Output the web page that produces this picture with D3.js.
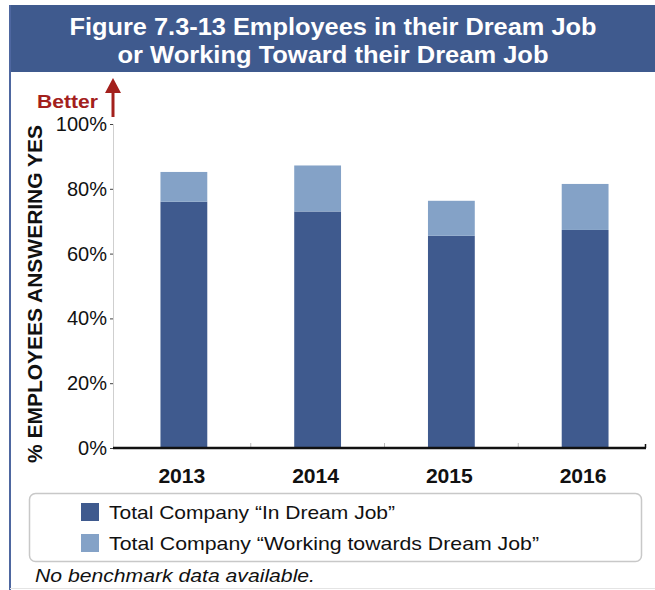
<!DOCTYPE html>
<html>
<head>
<meta charset="utf-8">
<script src="https://cdn.jsdelivr.net/npm/d3@7"></script>
<style>
  html, body { margin: 0; padding: 0; background: #fff; }
  svg { display: block; font-family: "Liberation Sans", Arial, sans-serif; }
</style>
</head>
<body>
<svg id="chart" width="655" height="590"></svg>
<script>
const years = ["2013", "2014", "2015", "2016"];
const inDreamJob = [76, 73, 65.5, 67.3];
const workingToward = [9.2, 14.2, 10.8, 14.2];
const yTicks = [0, 20, 40, 60, 80, 100];
const seriesNames = ["Total Company \u201CIn Dream Job\u201D", "Total Company \u201CWorking towards Dream Job\u201D"];
const seriesColors = ["#3F5A8E", "#84A2C7"];
const titleLines = ["Figure 7.3-13 Employees in their Dream Job", "or Working Toward their Dream Job"];

const svg = d3.select("#chart");

// frame
svg.append("rect").attr("x", 10).attr("y", 5).attr("width", 645).attr("height", 67).attr("fill", "#3F5A8E");
svg.append("line").attr("x1", 10).attr("x2", 10).attr("y1", 5).attr("y2", 590)
  .attr("stroke", "#4E67A0").attr("stroke-width", 2);
svg.append("line").attr("x1", 10).attr("x2", 655).attr("y1", 588.5).attr("y2", 588.5)
  .attr("stroke", "#e4e4e4").attr("stroke-width", 1);

// title
const titleWidths = [527, 431];
svg.selectAll("text.title").data(titleLines).join("text")
  .attr("class", "title")
  .attr("x", 333).attr("y", (d, i) => 35 + i * 28)
  .attr("text-anchor", "middle")
  .attr("fill", "#fff").attr("font-weight", "bold").attr("font-size", 23)
  .attr("textLength", (d, i) => titleWidths[i]).attr("lengthAdjust", "spacingAndGlyphs")
  .text(d => d);

// scales
const y = d3.scaleLinear().domain([0, 100]).range([448, 124]);
const x = d3.scaleBand().domain(years).range([117, 652]).paddingInner(0.65).paddingOuter(0.325);
const xb = d3.scaleBand().domain(years).range([117, 652]);

// y axis
const yAxis = svg.append("g").attr("transform", "translate(113,0)")
  .call(d3.axisLeft(y).tickValues(yTicks).tickFormat(d => d + "%").tickSize(3).tickPadding(3));
yAxis.select(".domain").attr("stroke", "#cfcfcf").attr("stroke-width", 1);
yAxis.selectAll(".tick line").attr("stroke", "#444");
yAxis.selectAll(".tick text").attr("font-size", 20).attr("fill", "#111")
  .attr("font-family", "Liberation Sans, Arial, sans-serif");

// bars
const data = years.map((yr, i) => ({ year: yr, a: inDreamJob[i], b: workingToward[i] }));
const stack = d3.stack().keys(["a", "b"])(data);
svg.append("g").selectAll("g").data(stack).join("g")
  .attr("fill", (d, i) => seriesColors[i])
  .selectAll("rect").data(d => d).join("rect")
  .attr("x", d => x(d.data.year))
  .attr("width", x.bandwidth())
  .attr("y", d => y(d[1]))
  .attr("height", d => y(d[0]) - y(d[1]));

// x axis
const xAxisG = svg.append("g").attr("transform", "translate(0,448)");
xAxisG.selectAll("line.sep").data(years.slice(1)).join("line")
  .attr("class", "sep")
  .attr("x1", d => xb(d)).attr("x2", d => xb(d))
  .attr("y1", 0).attr("y2", -5).attr("stroke", "#bbb");
xAxisG.append("line").attr("x1", 113).attr("x2", 646).attr("y1", 0).attr("y2", 0)
  .attr("stroke", "#111").attr("stroke-width", 2.5);
xAxisG.append("line").attr("x1", 645.5).attr("x2", 645.5).attr("y1", 0).attr("y2", -4)
  .attr("stroke", "#111").attr("stroke-width", 1.5);
xAxisG.selectAll("text.yr").data(years).join("text")
  .attr("class", "yr")
  .attr("x", d => x(d) + x.bandwidth() / 2 - 2)
  .attr("y", 35)
  .attr("text-anchor", "middle")
  .attr("font-size", 20).attr("font-weight", "bold").attr("fill", "#111")
  .attr("textLength", 47).attr("lengthAdjust", "spacingAndGlyphs")
  .text(d => d);

// y axis title
svg.append("text")
  .attr("transform", "translate(42,294) rotate(-90)")
  .attr("text-anchor", "middle")
  .attr("font-size", 20).attr("font-weight", "bold").attr("fill", "#111")
  .attr("textLength", 338).attr("lengthAdjust", "spacingAndGlyphs")
  .text("% EMPLOYEES ANSWERING YES");

// better arrow
const red = "#A3201C";
svg.append("text").attr("x", 37).attr("y", 108)
  .attr("font-size", 18).attr("font-weight", "bold").attr("fill", red)
  .attr("textLength", 61).attr("lengthAdjust", "spacingAndGlyphs")
  .text("Better");
svg.append("line").attr("x1", 113).attr("x2", 113).attr("y1", 117).attr("y2", 90)
  .attr("stroke", red).attr("stroke-width", 3);
svg.append("path").attr("d", "M105,93 L113,78 L121,93 Z").attr("fill", red);

// legend
const legendWidths = [286, 430];
svg.append("rect").attr("x", 29.5).attr("y", 493.5).attr("width", 612).attr("height", 68)
  .attr("rx", 6).attr("fill", "#fff").attr("stroke", "#c8c8c8").attr("stroke-width", 1.5);
const leg = svg.append("g").selectAll("g").data(seriesNames).join("g")
  .attr("transform", (d, i) => `translate(81,${503 + i * 31})`);
leg.append("rect").attr("width", 18).attr("height", 18).attr("fill", (d, i) => seriesColors[i]);
leg.append("text").attr("x", 28).attr("y", 16)
  .attr("font-size", 19).attr("fill", "#111")
  .attr("textLength", (d, i) => legendWidths[i]).attr("lengthAdjust", "spacingAndGlyphs")
  .text(d => d);

// footnote
svg.append("text").attr("x", 35).attr("y", 582)
  .attr("font-size", 19).attr("font-style", "italic").attr("fill", "#111")
  .attr("textLength", 280).attr("lengthAdjust", "spacingAndGlyphs")
  .text("No benchmark data available.");
</script>
</body>
</html>
